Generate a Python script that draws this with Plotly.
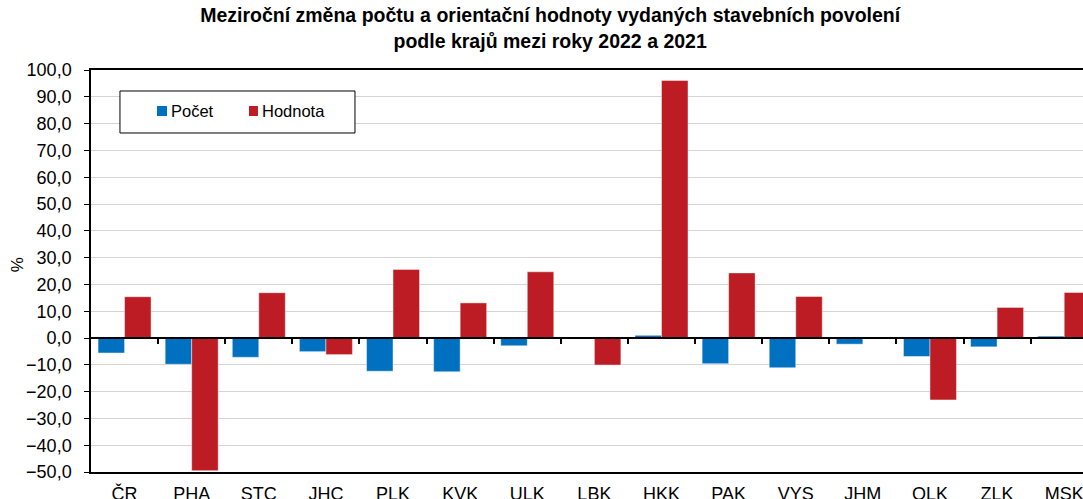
import plotly.graph_objects as go

categories = ["ČR", "PHA", "STC", "JHC", "PLK", "KVK", "ULK", "LBK", "HKK", "PAK", "VYS", "JHM", "OLK", "ZLK", "MSK"]
pocet = [-5.6, -9.8, -7.2, -5.1, -12.4, -12.6, -2.9, -0.1, 1.0, -9.6, -11.1, -2.3, -6.9, -3.3, 0.7]
hodnota = [15.4, -49.5, 16.9, -6.2, 25.6, 13.1, 24.7, -10.1, 96.1, 24.3, 15.5, 0.3, -23.1, 11.4, 17.0]
series_names = ["Počet", "Hodnota"]
ytick_vals = list(range(-50, 101, 10))
boundaries = [i + 0.5 for i in range(len(categories) - 1)]

blue = "#0070C0"
red = "#BE1C24"
font_family = "Liberation Sans, Arial, sans-serif"
xs = list(range(len(categories)))

fig = go.Figure()
fig.add_trace(go.Bar(x=xs, y=pocet, name=series_names[0],
                     marker=dict(color=blue, line=dict(color="rgba(255,255,255,0.45)", width=1))))
fig.add_trace(go.Bar(x=xs, y=hodnota, name=series_names[1],
                     marker=dict(color=red, line=dict(color="rgba(255,255,255,0.45)", width=1))))
# invisible trace on overlaying axis that draws the zero line with category ticks
fig.add_trace(go.Scatter(x=[0], y=[0], xaxis="x2", yaxis="y", mode="markers",
                         marker=dict(opacity=0), showlegend=False, hoverinfo="skip"))

# legend drawn as box + colour keys + text (matches the reference's compact layout)
fig.add_shape(type="rect", xref="paper", yref="paper", x0=0.0292, x1=0.2661, y0=0.8433, y1=0.9478,
              line=dict(color="black", width=1), fillcolor="white", layer="above")
key_x = [(0.0665, 0.0766), (0.1593, 0.1683)]
key_colors = [blue, red]
for (kx0, kx1), col, name in zip(key_x, key_colors, series_names):
    fig.add_shape(type="rect", xref="paper", yref="paper", x0=kx0, x1=kx1, y0=0.8856, y1=0.9104,
                  line=dict(width=0), fillcolor=col, layer="above")
    fig.add_annotation(text=name, xref="paper", yref="paper", x=kx1 + 0.002, y=0.898,
                       xanchor="left", yanchor="middle", showarrow=False,
                       font=dict(size=16.5, family=font_family, color="black"))

# y-axis unit label
fig.add_annotation(text="%", xref="paper", yref="paper", x=-0.0746, y=0.517, textangle=-90,
                   xanchor="center", yanchor="middle", showarrow=False,
                   font=dict(size=17, family=font_family, color="black"))

xrange = [-0.5, 14.28]
fig.update_layout(
    width=1083, height=499,
    margin=dict(l=91, r=0, t=70, b=27),
    paper_bgcolor="white", plot_bgcolor="white",
    separators=", ",
    font=dict(family=font_family, size=18, color="black"),
    title=dict(text="<b>Meziroční změna počtu a orientační hodnoty vydaných stavebních povolení<br>podle krajů mezi roky 2022 a 2021</b>",
               x=0.508, xanchor="center", y=0.9555, yanchor="top", yref="container",
               font=dict(size=19.5, family=font_family, color="black")),
    barmode="group", bargap=0.21, bargroupgap=0,
    showlegend=False,
    xaxis=dict(range=xrange, tickmode="array", tickvals=xs,
               ticktext=categories, showline=True, linecolor="black", linewidth=1.5,
               mirror=True, ticks="", showgrid=False, zeroline=False, automargin=False,
               tickfont=dict(size=18), ticklabelstandoff=5, ticklabeloverflow="allow"),
    xaxis2=dict(range=xrange, overlaying="x", anchor="free", position=1/3,
                tickmode="array", tickvals=boundaries, ticks="outside", ticklen=5,
                tickcolor="black", tickwidth=1.5, showticklabels=False, showline=True,
                linecolor="black", linewidth=1.5, showgrid=False, zeroline=False),
    yaxis=dict(range=[-50, 100], tickmode="array", tickvals=ytick_vals, tickformat=".1f",
               showline=True, linecolor="black", linewidth=1.5, ticks="outside", ticklen=5,
               tickcolor="black", showgrid=True, gridcolor="#D4D4D4", gridwidth=1,
               zeroline=False, tickfont=dict(size=18), ticklabelstandoff=9, automargin=False),
)
fig.write_html("out.html", config={"displayModeBar": False},
               post_script="document.body.style.margin='0';document.body.style.overflow='hidden';")
